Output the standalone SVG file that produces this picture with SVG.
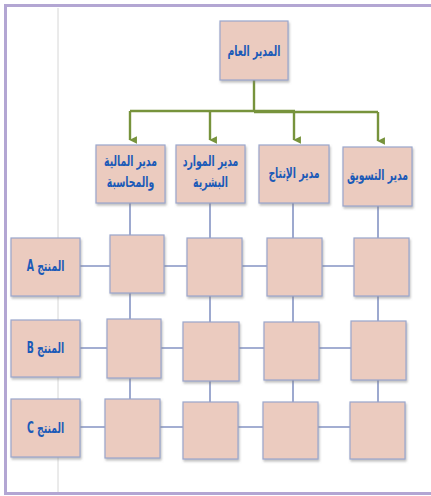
<svg xmlns="http://www.w3.org/2000/svg" width="431" height="496" viewBox="0 0 431 496">
<defs>
<style>
.box{fill:#ebcbbf;stroke:#9aa6cc;stroke-width:1.2;filter:url(#sh)}
.t{font-family:"DejaVu Sans","Noto Sans",sans-serif;font-weight:bold;font-size:15px;fill:#1b5ab8;text-anchor:middle;direction:rtl}
.ln{stroke:#8594c4;stroke-width:1.6;fill:none}
.gr{stroke:#77933c;stroke-width:2.4;fill:none}
</style>
<filter id="sh" x="-10%" y="-10%" width="130%" height="130%">
<feDropShadow dx="1" dy="2" stdDeviation="1" flood-color="#808080" flood-opacity="0.5"/>
</filter>
<marker id="ar" viewBox="0 0 10 10" refX="5" refY="9" markerWidth="3.2" markerHeight="3.2" orient="auto-start-reverse" markerUnits="strokeWidth">
<path d="M0,0 L10,0 L5,10 Z" fill="#77933c"/>
</marker>
</defs>
<rect x="0" y="0" width="431" height="496" fill="#ffffff"/>
<path d="M440,5.5 H5.5 V493.5 H440" fill="none" stroke="#b3a6d3" stroke-width="3"/>
<line x1="58" y1="8" x2="58" y2="492" stroke="#d6d6d6" stroke-width="1"/>

<g id="connectors">
<path class="gr" d="M254,80 V111"/>
<path class="gr" d="M130,111 H295 M254,112 H378"/>
<path class="gr" d="M130,111 V140" marker-end="url(#ar)"/>
<path class="gr" d="M210,111 V140" marker-end="url(#ar)"/>
<path class="gr" d="M294,111 V140" marker-end="url(#ar)"/>
<path class="gr" d="M378,112 V141" marker-end="url(#ar)"/>
<path class="ln" d="M130,203 V455 M210,203 V457 M293,203 V457 M378,206 V457"/>
<path class="ln" d="M80,266 H354 M80,348 H351 M80,427 H350"/>
</g>

<g id="gm"><rect class="box" x="220" y="21" width="68" height="59"/><text class="t" transform="translate(254,56) scale(0.62,1)">المدير العام</text></g>

<g id="m1"><rect class="box" x="96" y="145" width="69" height="58"/><text class="t" transform="translate(130.5,166) scale(0.62,1)">مدير المالية</text><text class="t" transform="translate(130.5,187) scale(0.62,1)">والمحاسبة</text></g>
<g id="m2"><rect class="box" x="176" y="145" width="69" height="58"/><text class="t" transform="translate(210.5,166) scale(0.62,1)">مدير الموارد</text><text class="t" transform="translate(210.5,187) scale(0.62,1)">البشرية</text></g>
<g id="m3"><rect class="box" x="259" y="145" width="70" height="58"/><text class="t" transform="translate(294,178) scale(0.62,1)">مدير الإنتاج</text></g>
<g id="m4"><rect class="box" x="343" y="147" width="69" height="59"/><text class="t" transform="translate(377.5,180) scale(0.62,1)">مدير التسويق</text></g>

<g id="pA"><rect class="box" x="11" y="238" width="69" height="58"/><text class="t" transform="translate(45.5,271) scale(0.62,1)">المنتج A</text></g>
<g id="pB"><rect class="box" x="11" y="320" width="69" height="57"/><text class="t" transform="translate(45.5,353) scale(0.62,1)">المنتج B</text></g>
<g id="pC"><rect class="box" x="11" y="399" width="69" height="58"/><text class="t" transform="translate(45.5,433) scale(0.62,1)">المنتج C</text></g>

<g id="a1"><rect class="box" x="110" y="235" width="54" height="58"/></g>
<g id="a2"><rect class="box" x="187" y="238" width="55" height="58"/></g>
<g id="a3"><rect class="box" x="267" y="238" width="55" height="58"/></g>
<g id="a4"><rect class="box" x="354" y="238" width="55" height="58"/></g>

<g id="b1"><rect class="box" x="107" y="319" width="54" height="59"/></g>
<g id="b2"><rect class="box" x="183" y="322" width="56" height="59"/></g>
<g id="b3"><rect class="box" x="264" y="322" width="55" height="58"/></g>
<g id="b4"><rect class="box" x="351" y="321" width="55" height="59"/></g>

<g id="c1"><rect class="box" x="105" y="399" width="55" height="59"/></g>
<g id="c2"><rect class="box" x="183" y="402" width="55" height="57"/></g>
<g id="c3"><rect class="box" x="263" y="402" width="55" height="57"/></g>
<g id="c4"><rect class="box" x="350" y="402" width="55" height="57"/></g>
</svg>
